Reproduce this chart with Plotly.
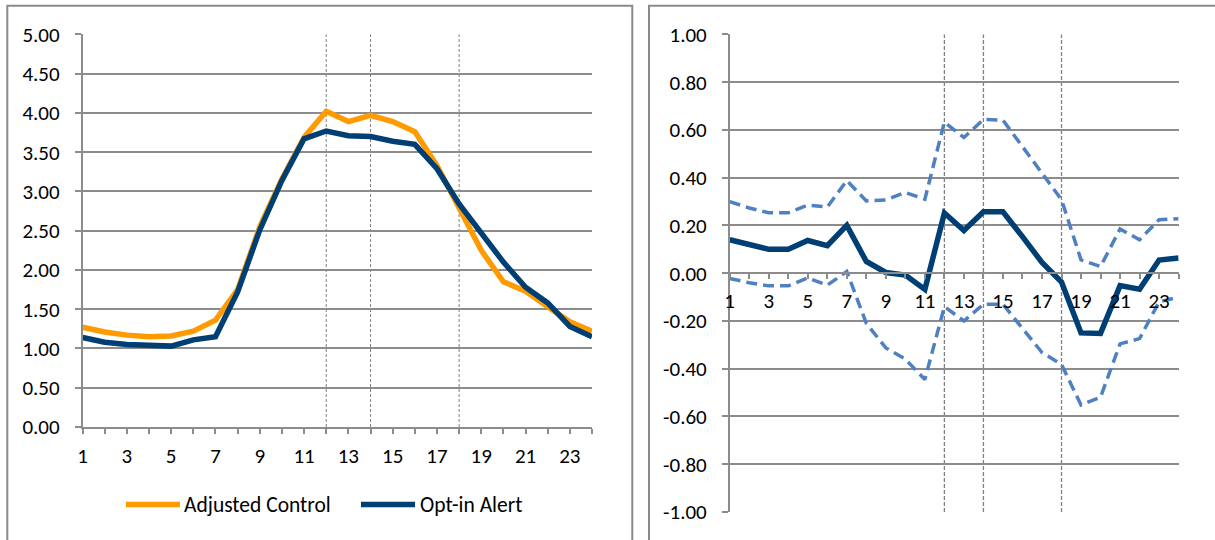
import plotly.graph_objects as go

# Hour of day (1-24)
hours = list(range(1, 25))
hour_tick_labels = ["1", "", "3", "", "5", "", "7", "", "9", "", "11", "", "13", "",
                    "15", "", "17", "", "19", "", "21", "", "23", ""]

# Left panel: average hourly load
adjusted_control = [1.27, 1.21, 1.17, 1.15, 1.16, 1.22, 1.36, 1.75, 2.55, 3.16, 3.69, 4.02,
                    3.89, 3.97, 3.89, 3.76, 3.33, 2.80, 2.25, 1.85, 1.73, 1.53, 1.34, 1.22]
opt_in_alert = [1.14, 1.08, 1.05, 1.04, 1.03, 1.11, 1.15, 1.72, 2.51, 3.14, 3.67, 3.77,
                3.71, 3.70, 3.64, 3.60, 3.29, 2.84, 2.48, 2.10, 1.78, 1.58, 1.28, 1.15]
left_y_ticks = [0.0, 0.5, 1.0, 1.5, 2.0, 2.5, 3.0, 3.5, 4.0, 4.5, 5.0]
left_y_labels = ["0.00", "0.50", "1.00", "1.50", "2.00", "2.50", "3.00", "3.50", "4.00", "4.50", "5.00"]

# Right panel: difference with confidence band
difference = [0.140, 0.117, 0.100, 0.100, 0.137, 0.115, 0.200, 0.049, 0.003, -0.008, -0.068, 0.252,
              0.179, 0.257, 0.257, 0.153, 0.045, -0.037, -0.250, -0.252, -0.052, -0.067, 0.055, 0.064]
upper_bound = [0.300, 0.273, 0.253, 0.253, 0.285, 0.277, 0.388, 0.303, 0.307, 0.338, 0.310, 0.633,
               0.568, 0.644, 0.641, 0.530, 0.420, 0.308, 0.056, 0.028, 0.185, 0.140, 0.224, 0.228]
lower_bound = [-0.022, -0.040, -0.053, -0.053, -0.020, -0.050, 0.007, -0.210, -0.313, -0.360, -0.445, -0.140,
               -0.200, -0.130, -0.130, -0.230, -0.332, -0.382, -0.552, -0.519, -0.296, -0.274, -0.120, -0.100]
right_y_ticks = [-1.0, -0.8, -0.6, -0.4, -0.2, 0.0, 0.2, 0.4, 0.6, 0.8, 1.0]
right_y_labels = ["-1.00", "-0.80", "-0.60", "-0.40", "-0.20", "0.00", "0.20", "0.40", "0.60", "0.80", "1.00"]

# Event window markers
event_hours = [12, 14, 18]

ORANGE = "#FF9A00"
NAVY = "#003F74"
LIGHT_BLUE = "#4F81C0"
GRID = "#8C8C8C"
FONT = "Carlito, Calibri, Lato, sans-serif"
TICK_SIZE = 21
LEGEND_SIZE = 21.5

W, H = 1215, 540


def px_x(v):
    return v / W


def px_y(v):
    return 1 - v / H


fig = go.Figure()

fig.add_trace(go.Scatter(x=hours, y=adjusted_control, mode="lines", name="Adjusted Control",
                         line=dict(color=ORANGE, width=5.5), xaxis="x", yaxis="y", showlegend=False))
fig.add_trace(go.Scatter(x=hours, y=opt_in_alert, mode="lines", name="Opt-in Alert",
                         line=dict(color=NAVY, width=5.5), xaxis="x", yaxis="y", showlegend=False))

fig.add_trace(go.Scatter(x=hours, y=upper_bound, mode="lines", name="Upper bound",
                         line=dict(color=LIGHT_BLUE, width=3.5, dash="11px,6px"),
                         xaxis="x2", yaxis="y2", showlegend=False))
fig.add_trace(go.Scatter(x=hours, y=lower_bound, mode="lines", name="Lower bound",
                         line=dict(color=LIGHT_BLUE, width=3.5, dash="11px,6px"),
                         xaxis="x2", yaxis="y2", showlegend=False))
fig.add_trace(go.Scatter(x=hours, y=difference, mode="lines", name="Difference",
                         line=dict(color=NAVY, width=5.5), xaxis="x2", yaxis="y2", showlegend=False))

common_x = dict(tickmode="array", tickvals=hours, ticktext=hour_tick_labels,
                ticks="outside", ticklen=5, tickwidth=1.5, tickcolor=GRID,
                showline=True, linecolor=GRID, linewidth=1.5, showgrid=False, zeroline=False,
                automargin=False,
                tickfont=dict(family=FONT, size=TICK_SIZE, color="#000000"), ticklabelstandoff=4)
common_y = dict(tickmode="array", ticks="outside", ticklen=6, tickwidth=1.5, tickcolor=GRID,
                showline=True, linecolor=GRID, linewidth=1.5, showgrid=True, gridcolor=GRID,
                gridwidth=1.5, zeroline=False, automargin=False,
                tickfont=dict(family=FONT, size=TICK_SIZE, color="#000000"), ticklabelstandoff=11)

# Left plot area: x 82.6-592 px, y 34.4-427 px
left_x_dom = [px_x(82.6), px_x(592)]
left_y_dom = [px_y(427), px_y(34.4)]
# Right plot area: x 729.7-1178.6 px, y 34.4-512 px
right_x_dom = [px_x(729.7), px_x(1178.6)]
right_y_dom = [px_y(512), px_y(34.4)]

fig.update_layout(
    template="none",
    width=W, height=H, autosize=False,
    margin=dict(l=0, r=0, t=0, b=0, pad=0),
    paper_bgcolor="white", plot_bgcolor="white",
    font=dict(family=FONT, size=TICK_SIZE, color="#000000"),
    showlegend=False,
    xaxis=dict(domain=left_x_dom, range=[1, 24], anchor="y", **common_x),
    yaxis=dict(domain=left_y_dom, range=[0, 5], anchor="x",
               tickvals=left_y_ticks, ticktext=left_y_labels, **common_y),
    xaxis2=dict(domain=right_x_dom, range=[1, 24], anchor="free",
                position=(right_y_dom[0] + right_y_dom[1]) / 2, **common_x),
    yaxis2=dict(domain=right_y_dom, range=[-1, 1], anchor="x2",
                tickvals=right_y_ticks, ticktext=right_y_labels, **common_y),
)

shapes = []
for h in event_hours:
    shapes.append(dict(type="line", xref="x", yref="y domain", x0=h, x1=h, y0=0, y1=1,
                       line=dict(color="#808080", width=1, dash="3px,2px"), layer="below"))
    shapes.append(dict(type="line", xref="x2", yref="y2 domain", x0=h, x1=h, y0=0, y1=1,
                       line=dict(color="#808080", width=1.3, dash="4px,2px"), layer="below"))

# Chart frames
shapes.append(dict(type="rect", xref="paper", yref="paper",
                   x0=px_x(7.3), x1=px_x(632.3), y0=-0.2, y1=px_y(5.7),
                   line=dict(color="#8A8A8A", width=2)))
shapes.append(dict(type="rect", xref="paper", yref="paper",
                   x0=px_x(649), x1=1.05, y0=-0.2, y1=px_y(5.7),
                   line=dict(color="#8A8A8A", width=2)))

# Legend keys
legend_y = px_y(504.5)
shapes.append(dict(type="line", xref="paper", yref="paper", x0=px_x(126), x1=px_x(180),
                   y0=legend_y, y1=legend_y, line=dict(color=ORANGE, width=5.5)))
shapes.append(dict(type="line", xref="paper", yref="paper", x0=px_x(361), x1=px_x(415),
                   y0=legend_y, y1=legend_y, line=dict(color=NAVY, width=5.5)))
fig.update_layout(shapes=shapes)

fig.add_annotation(x=px_x(182), y=legend_y, xref="paper", yref="paper", text="Adjusted Control",
                   showarrow=False, xanchor="left", yanchor="middle",
                   font=dict(family=FONT, size=LEGEND_SIZE, color="#000000"))
fig.add_annotation(x=px_x(418), y=legend_y, xref="paper", yref="paper", text="Opt-in Alert",
                   showarrow=False, xanchor="left", yanchor="middle",
                   font=dict(family=FONT, size=LEGEND_SIZE, color="#000000"))

fig.write_html("out.html")
